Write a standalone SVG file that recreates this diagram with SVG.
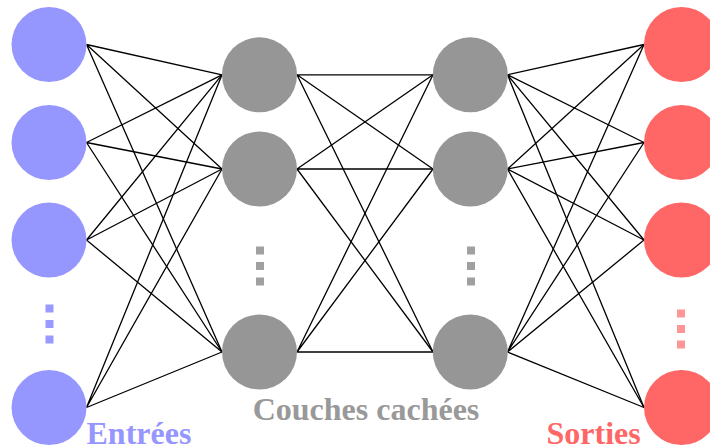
<svg xmlns="http://www.w3.org/2000/svg" width="710" height="448" viewBox="0 0 710 448">
<style>
.in{fill:#9696ff}
.hid{fill:#969696}
.out{fill:#ff6666}
.dotin{fill:#9999ff}
.dothid{fill:#a0a0a0}
.dotout{fill:#ff9696}
.edge{stroke:#000;stroke-width:1.3;fill:none}
.lbl{font-family:"Liberation Serif","Times New Roman",serif;font-weight:bold;font-size:32px}
</style>
<rect width="710" height="448" fill="#fff"/>
<g id="connectors" class="edge">
<!-- inputs to hidden 1 -->
<path d="M86.5,44.5L222,74.8M86.5,44.5L222,169M86.5,44.5L222,352"/>
<path d="M86.5,142.5L222,74.8M86.5,142.5L222,169M86.5,142.5L222,352"/>
<path d="M86.5,240L222,74.8M86.5,240L222,169M86.5,240L222,352"/>
<path d="M86.5,407.5L222,74.8M86.5,407.5L222,169M86.5,407.5L222,352"/>
<!-- hidden 1 to hidden 2 -->
<path d="M297,74.8L433,74.8M297,74.8L433,169M297,74.8L433,352"/>
<path d="M297,169L433,74.8M297,169L433,169M297,169L433,352"/>
<path d="M297,352L433,74.8M297,352L433,169M297,352L433,352"/>
<!-- hidden 2 to outputs -->
<path d="M507.5,74.8L644,44.5M507.5,74.8L644,142.5M507.5,74.8L644,240M507.5,74.8L644,407.5"/>
<path d="M507.5,169L644,44.5M507.5,169L644,142.5M507.5,169L644,240M507.5,169L644,407.5"/>
<path d="M507.5,352L644,44.5M507.5,352L644,142.5M507.5,352L644,240M507.5,352L644,407.5"/>
</g>
<g id="input1"><circle class="in" cx="49" cy="44.5" r="37.5"/></g>
<g id="input2"><circle class="in" cx="49" cy="142.5" r="37.5"/></g>
<g id="input3"><circle class="in" cx="49" cy="240" r="37.5"/></g>
<g id="input-dots" class="dotin"><rect x="45.5" y="304.5" width="8" height="8"/><rect x="45.5" y="320" width="8" height="8"/><rect x="45.5" y="335.5" width="8" height="8"/></g>
<g id="input4"><circle class="in" cx="49" cy="407.5" r="37.5"/></g>
<g id="hidden1a"><circle class="hid" cx="259.5" cy="74.8" r="37.5"/></g>
<g id="hidden1b"><circle class="hid" cx="259.5" cy="169" r="37.5"/></g>
<g id="hidden1-dots" class="dothid"><rect x="256" y="246.5" width="8" height="8"/><rect x="256" y="262" width="8" height="8"/><rect x="256" y="277.5" width="8" height="8"/></g>
<g id="hidden1c"><circle class="hid" cx="259.5" cy="352" r="37.5"/></g>
<g id="hidden2a"><circle class="hid" cx="470.3" cy="74.8" r="37.5"/></g>
<g id="hidden2b"><circle class="hid" cx="470.3" cy="169" r="37.5"/></g>
<g id="hidden2-dots" class="dothid"><rect x="467" y="246.5" width="8" height="8"/><rect x="467" y="262" width="8" height="8"/><rect x="467" y="277.5" width="8" height="8"/></g>
<g id="hidden2c"><circle class="hid" cx="470.3" cy="352" r="37.5"/></g>
<g id="output1"><circle class="out" cx="681.5" cy="44.5" r="37.5"/></g>
<g id="output2"><circle class="out" cx="681.5" cy="142.5" r="37.5"/></g>
<g id="output3"><circle class="out" cx="681.5" cy="240" r="37.5"/></g>
<g id="output-dots" class="dotout"><rect x="677" y="309.5" width="8" height="8"/><rect x="677" y="325" width="8" height="8"/><rect x="677" y="340.5" width="8" height="8"/></g>
<g id="output4"><circle class="out" cx="681.5" cy="407.5" r="37.5"/></g>
<g id="labels" class="lbl">
<text x="86.5" y="443.5" fill="#9696ff">Entrées</text>
<text x="366" y="420" fill="#999999" text-anchor="middle">Couches cachées</text>
<text x="546.5" y="443.5" fill="#ff6666">Sorties</text>
</g>
</svg>
